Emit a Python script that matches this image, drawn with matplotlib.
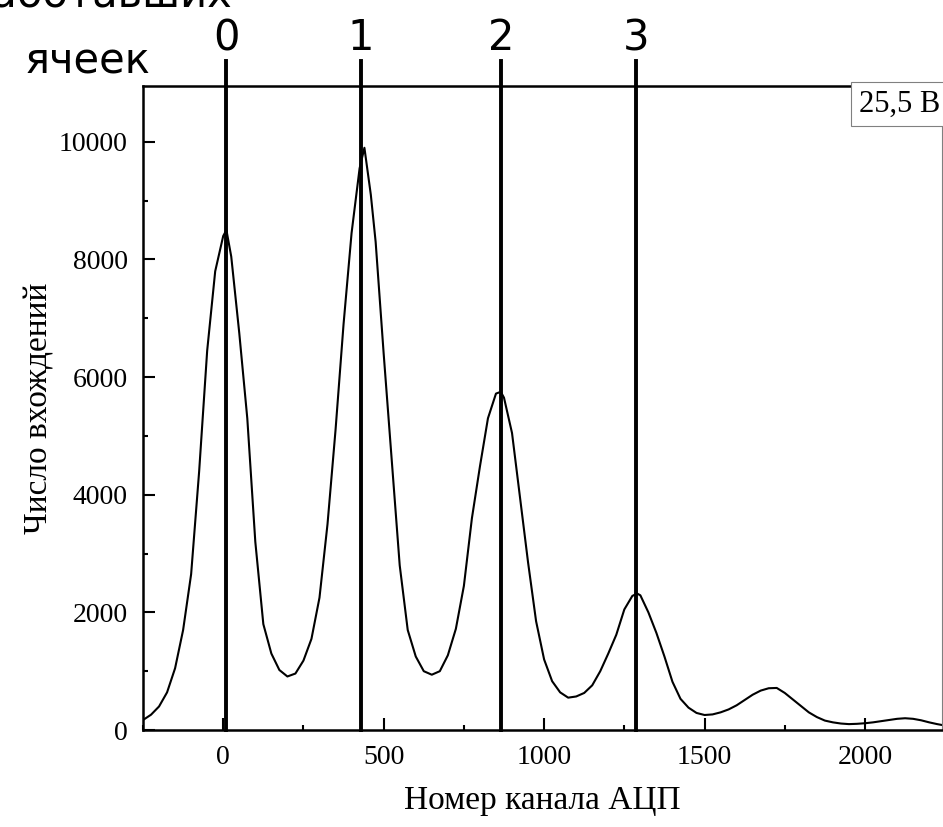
import matplotlib
matplotlib.use("Agg")
import matplotlib.pyplot as plt

# спектр: номер канала АЦП и число вхождений
kanal = [-250, -225, -200, -175, -150, -125, -100, -75, -50, -25, 0, 10, 25, 50, 75,
         100, 125, 150, 175, 200, 225, 250, 275, 300, 325, 350, 375, 400, 425, 440,
         460, 475, 500, 525, 550, 575, 600, 625, 650, 675, 700, 725, 750, 775, 800,
         825, 850, 865, 875, 900, 925, 950, 975, 1000, 1025, 1050, 1075, 1100, 1125, 1150,
         1175, 1200, 1225, 1250, 1275, 1290, 1300, 1325, 1350, 1375, 1400, 1425, 1450, 1475, 1500,
         1525, 1550, 1575, 1600, 1625, 1650, 1675, 1700, 1725, 1750, 1775, 1800, 1825, 1850, 1875,
         1900, 1925, 1950, 1975, 2000, 2025, 2050, 2075, 2100, 2125, 2150, 2175, 2200, 2225, 2240]
broj = [170, 260, 400, 640, 1050, 1700, 2650, 4400, 6450, 7800, 8400, 8500, 8050, 6750, 5300,
        3200, 1800, 1300, 1020, 910, 960, 1180, 1550, 2250, 3500, 5100, 6900, 8450, 9550, 9900,
        9100, 8300, 6400, 4600, 2800, 1700, 1250, 1000, 940, 1000, 1270, 1720, 2450, 3600, 4480,
        5300, 5720, 5750, 5650, 5050, 3950, 2850, 1850, 1200, 830, 640, 550, 570, 630, 760,
        1000, 1300, 1620, 2050, 2280, 2320, 2290, 2000, 1650, 1250, 820, 530, 380, 290, 255,
        265, 300, 350, 420, 510, 600, 670, 710, 715, 630, 520, 410, 300, 220, 160,
        130, 110, 100, 105, 115, 130, 150, 170, 190, 200, 190, 165, 130, 100, 85]

# положения пиков (число сработавших ячеек)
pikovi = [10, 429, 865, 1286]
oznake = ["0", "1", "2", "3"]

fig = plt.figure(figsize=(9.43, 8.27), dpi=100)
ax = fig.add_axes([143/943, 1-730/827, 799/943, 644/827])

ax.plot(kanal, broj, color="black", lw=1.5)

for x, t in zip(pikovi, oznake):
    ax.plot([x, x], [0, 11370], color="black", lw=2.8, clip_on=False, zorder=5)
    ax.text(x, 11557, t, ha="center", va="baseline", fontsize=30, family="DejaVu Sans")

ax.set_xlim(-250, 2240)
ax.set_ylim(0, 10950)
ax.set_xticks([0, 500, 1000, 1500, 2000])
ax.set_xticks(range(-250, 2250, 250), minor=True)
ax.set_yticks(range(0, 10001, 2000))
ax.set_yticks(range(0, 11000, 1000), minor=True)
ax.tick_params(which="both", direction="in", top=False, right=False, width=1.5)
ax.tick_params(which="major", length=8.5, labelsize=20, pad=11)
ax.tick_params(which="minor", length=3.6)
for lab in ax.get_xticklabels() + ax.get_yticklabels():
    lab.set_family("Liberation Serif")

for s in ["left", "bottom", "top"]:
    ax.spines[s].set_linewidth(1.8)
ax.spines["right"].set_linewidth(0.8)
ax.spines["right"].set_color("gray")

ax.set_xlabel("Номер канала АЦП", fontsize=24, family="Liberation Serif", labelpad=11)
ax.set_ylabel("Число вхождений", fontsize=24, family="Liberation Serif", labelpad=3)

fig.text(88/943, 1-73/827, "ячеек", ha="center", va="baseline", fontsize=30, family="DejaVu Sans")
fig.text(88/943, 1-7/827, "сработавших", ha="center", va="baseline", fontsize=30, family="DejaVu Sans")

fig.text(859/943, 1-104/827, "25,5 В", ha="left", va="center", fontsize=22,
         family="Liberation Serif",
         bbox=dict(boxstyle="square,pad=0.25", fc="white", ec="gray", lw=0.8))

fig.savefig("out.png", dpi=100)
